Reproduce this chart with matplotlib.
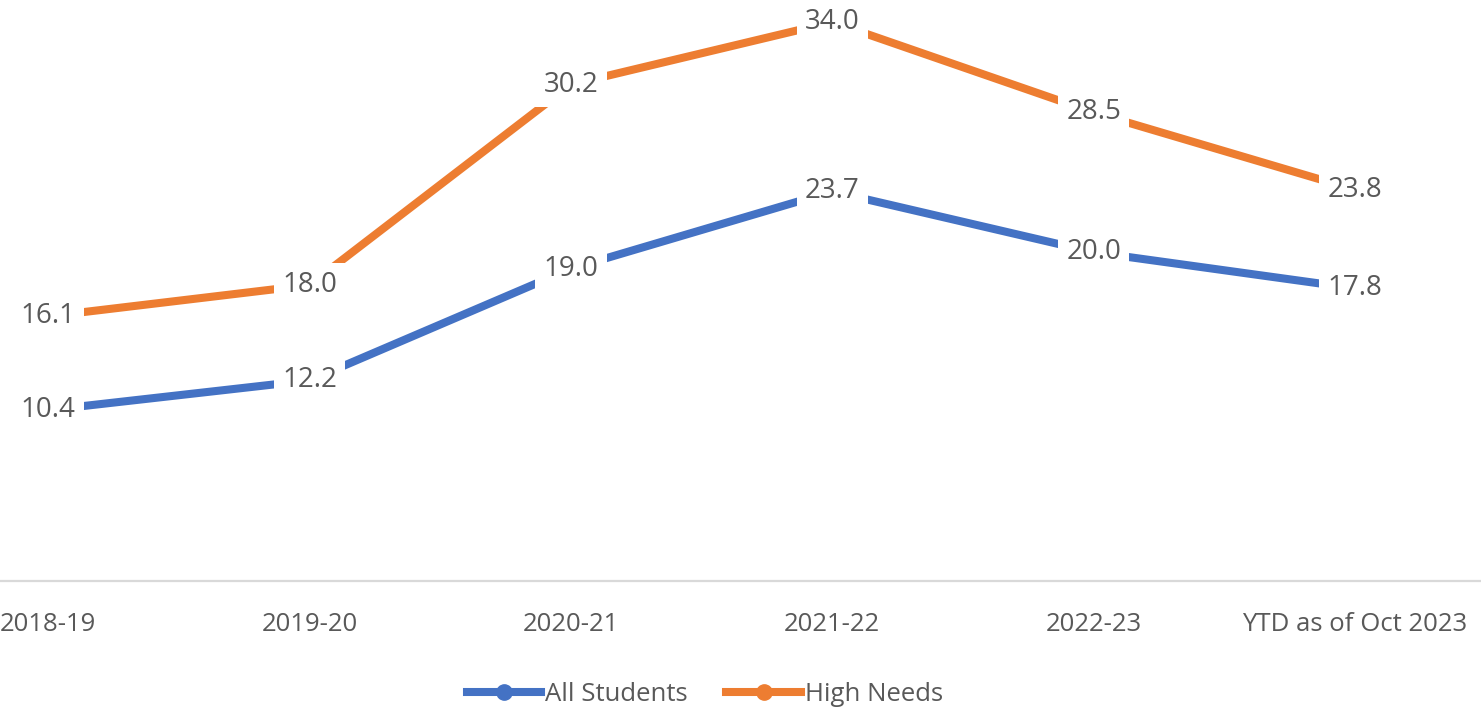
import matplotlib.pyplot as plt
from matplotlib.lines import Line2D

periodos = ["2018-19", "2019-20", "2020-21", "2021-22", "2022-23", "YTD as of Oct 2023"]
todos = [10.4, 12.2, 19.0, 23.7, 20.0, 17.8]
altas_necesidades = [16.1, 18.0, 30.2, 34.0, 28.5, 23.8]

azul = "#4472c4"
naranja = "#ed7d31"
gris = "#595959"

plt.rcParams['font.family'] = ['Open Sans', 'DejaVu Sans']

fig = plt.figure(figsize=(14.81, 7.10), dpi=100)
ax = fig.add_axes([0, 0.1817, 1, 0.8183])

x = list(range(len(periodos)))
ax.plot(x, todos, color=azul, lw=5.8, solid_capstyle='butt', zorder=2)
ax.plot(x, altas_necesidades, color=naranja, lw=5.8, solid_capstyle='butt', zorder=2)

# Etiquetas de datos con fondo blanco
for serie in (todos, altas_necesidades):
    for xi, v in zip(x, serie):
        ax.text(xi, v, f"{v:.1f}", ha='center', va='center', fontsize=20, color=gris,
                bbox=dict(facecolor='white', edgecolor='none', pad=6), zorder=3)

ax.set_xlim(-0.184, 5.482)
ax.set_ylim(0, 35.34)
ax.set_xticks(x)
ax.set_xticklabels(periodos, fontsize=18.5, color=gris)
ax.tick_params(axis='x', length=0, pad=22)
ax.set_yticks([])
for lado in ('top', 'left', 'right'):
    ax.spines[lado].set_visible(False)
ax.spines['bottom'].set_color('#d9d9d9')
ax.spines['bottom'].set_linewidth(1.6)

manejadores = [
    Line2D([0], [0], color=azul, lw=5.8, marker='o', markersize=11),
    Line2D([0], [0], color=naranja, lw=5.8, marker='o', markersize=11),
]
fig.legend(manejadores, ["All Students", "High Needs"], loc='center', bbox_to_anchor=(0.476, 0.022),
           ncol=2, frameon=False, fontsize=18.5, labelcolor=gris, handlelength=2.9,
           handletextpad=0.15, columnspacing=1.5)

fig.savefig("out.png", dpi=100)
